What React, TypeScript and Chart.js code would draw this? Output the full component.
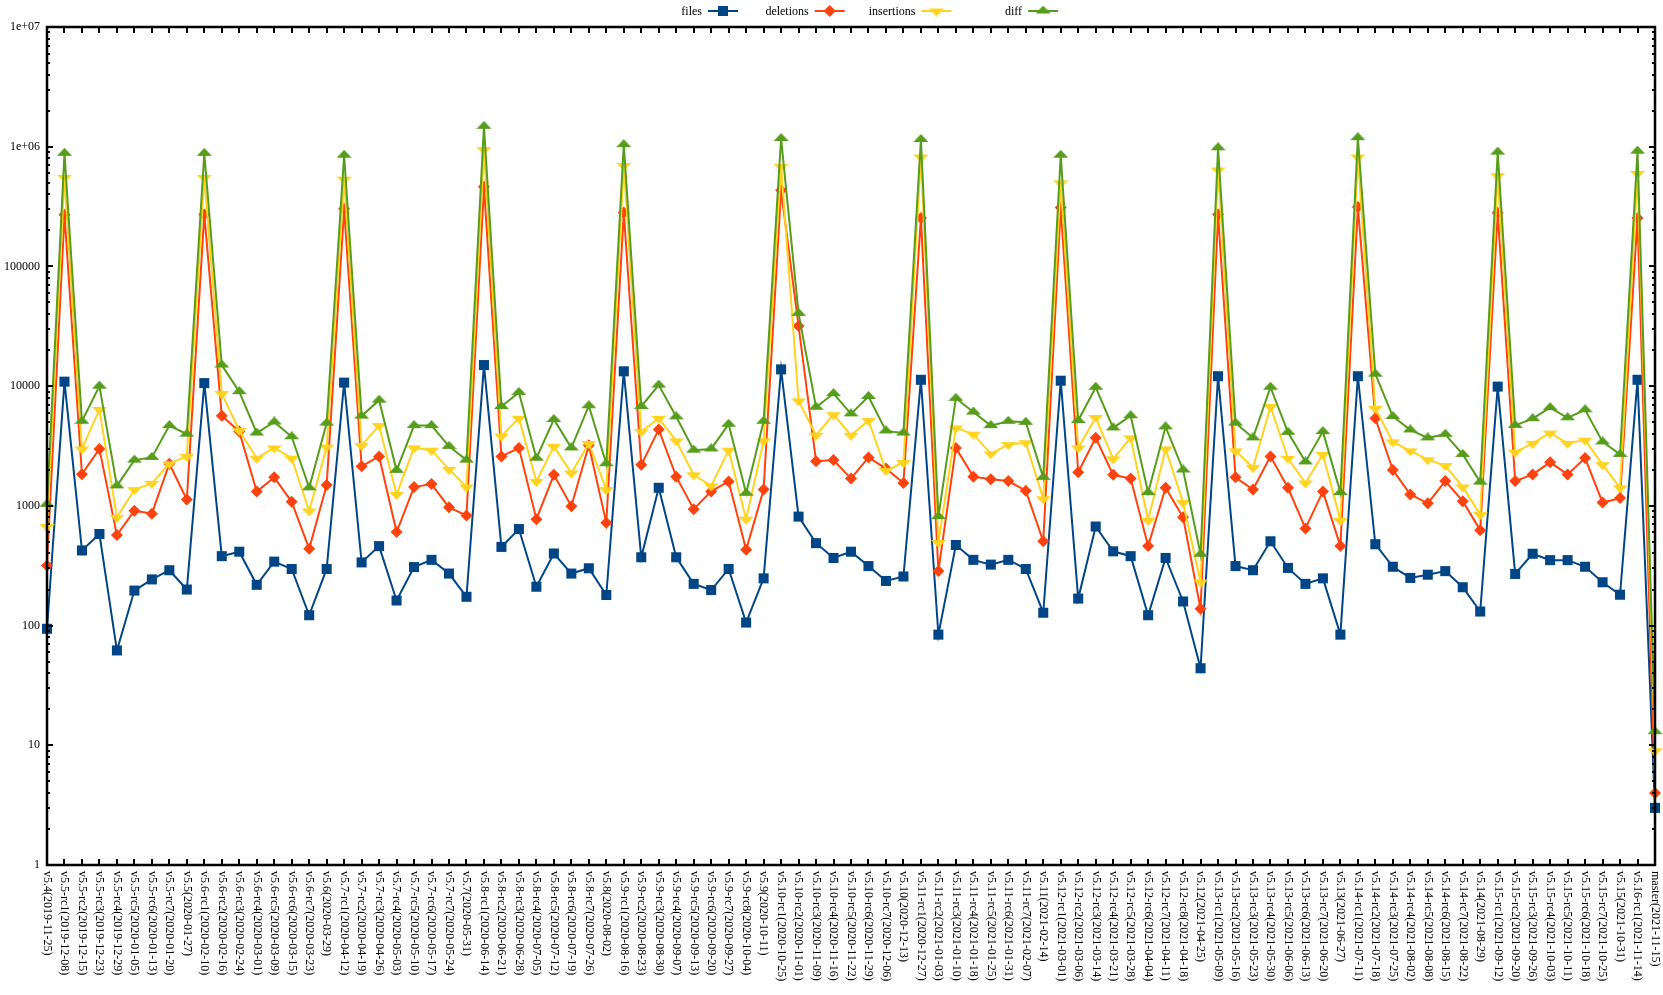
import React, { useEffect, useRef } from 'react';
import { Chart, registerables } from 'chart.js';
Chart.register(...registerables);

const categories = [
  'v5.4(2019-11-25)', 'v5.5-rc1(2019-12-08)', 'v5.5-rc2(2019-12-15)', 'v5.5-rc3(2019-12-23)', 'v5.5-rc4(2019-12-29)',
  'v5.5-rc5(2020-01-05)', 'v5.5-rc6(2020-01-13)', 'v5.5-rc7(2020-01-20)', 'v5.5(2020-01-27)', 'v5.6-rc1(2020-02-10)',
  'v5.6-rc2(2020-02-16)', 'v5.6-rc3(2020-02-24)', 'v5.6-rc4(2020-03-01)', 'v5.6-rc5(2020-03-09)', 'v5.6-rc6(2020-03-15)',
  'v5.6-rc7(2020-03-23)', 'v5.6(2020-03-29)', 'v5.7-rc1(2020-04-12)', 'v5.7-rc2(2020-04-19)', 'v5.7-rc3(2020-04-26)',
  'v5.7-rc4(2020-05-03)', 'v5.7-rc5(2020-05-10)', 'v5.7-rc6(2020-05-17)', 'v5.7-rc7(2020-05-24)', 'v5.7(2020-05-31)',
  'v5.8-rc1(2020-06-14)', 'v5.8-rc2(2020-06-21)', 'v5.8-rc3(2020-06-28)', 'v5.8-rc4(2020-07-05)', 'v5.8-rc5(2020-07-12)',
  'v5.8-rc6(2020-07-19)', 'v5.8-rc7(2020-07-26)', 'v5.8(2020-08-02)', 'v5.9-rc1(2020-08-16)', 'v5.9-rc2(2020-08-23)',
  'v5.9-rc3(2020-08-30)', 'v5.9-rc4(2020-09-07)', 'v5.9-rc5(2020-09-13)', 'v5.9-rc6(2020-09-20)', 'v5.9-rc7(2020-09-27)',
  'v5.9-rc8(2020-10-04)', 'v5.9(2020-10-11)', 'v5.10-rc1(2020-10-25)', 'v5.10-rc2(2020-11-01)', 'v5.10-rc3(2020-11-09)',
  'v5.10-rc4(2020-11-16)', 'v5.10-rc5(2020-11-22)', 'v5.10-rc6(2020-11-29)', 'v5.10-rc7(2020-12-06)', 'v5.10(2020-12-13)',
  'v5.11-rc1(2020-12-27)', 'v5.11-rc2(2021-01-03)', 'v5.11-rc3(2021-01-10)', 'v5.11-rc4(2021-01-18)', 'v5.11-rc5(2021-01-25)',
  'v5.11-rc6(2021-01-31)', 'v5.11-rc7(2021-02-07)', 'v5.11(2021-02-14)', 'v5.12-rc1(2021-03-01)', 'v5.12-rc2(2021-03-06)',
  'v5.12-rc3(2021-03-14)', 'v5.12-rc4(2021-03-21)', 'v5.12-rc5(2021-03-28)', 'v5.12-rc6(2021-04-04)', 'v5.12-rc7(2021-04-11)',
  'v5.12-rc8(2021-04-18)', 'v5.12(2021-04-25)', 'v5.13-rc1(2021-05-09)', 'v5.13-rc2(2021-05-16)', 'v5.13-rc3(2021-05-23)',
  'v5.13-rc4(2021-05-30)', 'v5.13-rc5(2021-06-06)', 'v5.13-rc6(2021-06-13)', 'v5.13-rc7(2021-06-20)', 'v5.13(2021-06-27)',
  'v5.14-rc1(2021-07-11)', 'v5.14-rc2(2021-07-18)', 'v5.14-rc3(2021-07-25)', 'v5.14-rc4(2021-08-02)', 'v5.14-rc5(2021-08-08)',
  'v5.14-rc6(2021-08-15)', 'v5.14-rc7(2021-08-22)', 'v5.14(2021-08-29)', 'v5.15-rc1(2021-09-12)', 'v5.15-rc2(2021-09-20)',
  'v5.15-rc3(2021-09-26)', 'v5.15-rc4(2021-10-03)', 'v5.15-rc5(2021-10-11)', 'v5.15-rc6(2021-10-18)', 'v5.15-rc7(2021-10-25)',
  'v5.15(2021-10-31)', 'v5.16-rc1(2021-11-14)', 'master(2021-11-15)',
];

const files = [
  94, 10900, 424, 582, 62, 196, 243, 290, 200, 10600, 380, 414, 219, 342, 297, 122, 297, 10700, 337, 461,
  162, 308, 354, 272, 174, 15000, 454, 640, 211, 400, 272, 301, 180, 13300, 372, 1416, 372, 223, 198, 297,
  106, 248, 13800, 813, 488, 367, 414, 314, 236, 257, 11300, 84, 471, 354, 323, 354, 297, 128, 11100, 168,
  672, 417, 380, 122, 367, 159, 44, 12100, 314, 290, 506, 303, 223, 248, 84, 12100, 478, 310, 250, 266,
  285, 209, 131, 9910, 270, 398, 352, 352, 310, 230, 181, 11300, 3,
];

const deletions = [
  318, 270000, 1840, 2990, 570, 912, 861, 2250, 1128, 272000, 5660, 4170, 1320, 1730, 1081, 438, 1490, 303000, 2140, 2590,
  604, 1436, 1520, 972, 832, 464000, 2590, 3050, 774, 1816, 993, 3210, 721, 282000, 2200, 4350, 1754, 938, 1320, 1600,
  430, 1368, 432000, 31800, 2360, 2410, 1690, 2540, 2050, 1553, 254000, 286, 3050, 1754, 1667, 1610, 1340, 506, 310000, 1910,
  3700, 1816, 1690, 461, 1416, 802, 138, 272000, 1730, 1368, 2590, 1416, 648, 1320, 461, 314000, 5390, 1995, 1245, 1050,
  1610, 1094, 627, 281000, 1610, 1830, 2310, 1830, 2510, 1066, 1161, 254000, 4,
];

const insertions = [
  672, 555000, 2990, 6390, 802, 1368, 1542, 2250, 2590, 555000, 8670, 4260, 2500, 3050, 2500, 906, 3100, 535000, 3200, 4680,
  1247, 3050, 2920, 2020, 1436, 945000, 3830, 5390, 1600, 3140, 1880, 3320, 1368, 697000, 4170, 5390, 3490, 1816, 1470, 2920,
  774, 3490, 686000, 7530, 3890, 5780, 3890, 5160, 1980, 2300, 820000, 494, 4480, 3970, 2720, 3250, 3370, 1146, 499000, 3050,
  5470, 2470, 3700, 758, 2990, 1066, 231, 639000, 2880, 2090, 6760, 2500, 1553, 2690, 758, 820000, 6530, 3420, 2880, 2430,
  2170, 1440, 845, 573000, 2810, 3330, 4060, 3330, 3540, 2210, 1416, 598000, 9,
];

const diff = [
  1030, 880000, 5090, 10000, 1470, 2410, 2540, 4680, 3970, 880000, 15000, 8990, 4060, 5020, 3780, 1416, 4910, 849000, 5620, 7640,
  1980, 4680, 4680, 3140, 2410, 1480000, 6760, 8870, 2500, 5270, 3050, 6860, 2250, 1040000, 6760, 10200, 5540, 2920, 2990, 4810,
  1273, 5090, 1170000, 40500, 6670, 8670, 5870, 8200, 4230, 4060, 1150000, 813, 7910, 6080, 4680, 5090, 4990, 1730, 849000, 5160,
  9790, 4480, 5660, 1291, 4570, 1995, 394, 980000, 4910, 3700, 9790, 4110, 2330, 4170, 1291, 1190000, 12600, 5580, 4310, 3700,
  3960, 2690, 1580, 902000, 4700, 5350, 6620, 5440, 6350, 3420, 2690, 918000, 13,
];

const seriesNames = ['files', 'deletions', 'insertions', 'diff'];
const yTickValues = [1, 10, 100, 1000, 10000, 100000, 1000000, 10000000];
const yTickLabels = ['1', '10', '100', '1000', '10000', '100000', '1e+06', '1e+07'];

const COLORS = ['#004586', '#ff420e', '#ffd320', '#579d1c'];
const FONT = '12px "Liberation Serif", "DejaVu Serif", serif';

function makeTriangle(color: string, up: boolean, w: number, h: number) {
  const c = document.createElement('canvas');
  const H = Math.round((h * 4) / 3);
  c.width = w;
  c.height = H;
  const ctx = c.getContext('2d')!;
  ctx.fillStyle = color;
  ctx.beginPath();
  if (up) {
    ctx.moveTo(w / 2, 0);
    ctx.lineTo(w, h);
    ctx.lineTo(0, h);
  } else {
    ctx.moveTo(0, H - h);
    ctx.lineTo(w, H - h);
    ctx.lineTo(w / 2, H);
  }
  ctx.closePath();
  ctx.fill();
  return c;
}

export default function App() {
  const ref = useRef<HTMLCanvasElement>(null);

  useEffect(() => {
    const canvas = ref.current!;
    const triUp = makeTriangle(COLORS[3], true, 15, 8);
    const triDown = makeTriangle(COLORS[2], false, 15, 8);

    const drawMarker = (ctx: CanvasRenderingContext2D, k: number, x: number, y: number) => {
      ctx.fillStyle = COLORS[k];
      if (k === 0) {
        ctx.fillRect(x - 5, y - 5, 10, 10);
      } else if (k === 1) {
        ctx.beginPath();
        ctx.moveTo(x - 6, y);
        ctx.lineTo(x, y - 6);
        ctx.lineTo(x + 6, y);
        ctx.lineTo(x, y + 6);
        ctx.closePath();
        ctx.fill();
      } else {
        const img = k === 2 ? triDown : triUp;
        ctx.drawImage(img, x - img.width / 2, y - img.height / 2);
      }
    };

    const framePlugin = {
      id: 'gnuplotFrame',
      afterDatasetsDraw(chart: any) {
        const ctx: CanvasRenderingContext2D = chart.ctx;
        const { left, right, top, bottom } = chart.chartArea;
        const xs = chart.scales.x;
        const ys = chart.scales.y;
        ctx.save();
        ctx.strokeStyle = '#000';
        ctx.lineWidth = 2;
        ctx.beginPath();
        for (let i = 0; i < categories.length; i++) {
          const x = Math.round(xs.getPixelForValue(i));
          ctx.moveTo(x, bottom);
          ctx.lineTo(x, bottom - 6);
          ctx.moveTo(x, top);
          ctx.lineTo(x, top + 6);
        }
        for (let d = 0; d < 7; d++) {
          for (let m = 1; m <= 9; m++) {
            const v = m * Math.pow(10, d);
            const y = Math.round(ys.getPixelForValue(v));
            const len = m === 1 ? 6 : 3;
            ctx.moveTo(left, y);
            ctx.lineTo(left + len, y);
            ctx.moveTo(right, y);
            ctx.lineTo(right - len, y);
          }
        }
        ctx.stroke();
        ctx.lineWidth = 2.5;
        ctx.strokeRect(left, top, right - left, bottom - top);
        ctx.restore();
      },
      afterDraw(chart: any) {
        const ctx: CanvasRenderingContext2D = chart.ctx;
        const { left, bottom } = chart.chartArea;
        const xs = chart.scales.x;
        const ys = chart.scales.y;
        ctx.save();
        ctx.fillStyle = '#000';
        ctx.font = FONT;
        ctx.textAlign = 'right';
        ctx.textBaseline = 'middle';
        yTickValues.forEach((v, i) => {
          ctx.fillText(yTickLabels[i], left - 7, ys.getPixelForValue(v));
        });
        ctx.textAlign = 'left';
        categories.forEach((c, i) => {
          const x = xs.getPixelForValue(i);
          ctx.save();
          ctx.translate(x, bottom + 6);
          ctx.rotate(Math.PI / 2);
          ctx.fillText(c, 0, 0);
          ctx.restore();
        });
        const ly = 11;
        seriesNames.forEach((name, k) => {
          const cx = 723 + 106.7 * k;
          ctx.fillStyle = '#000';
          ctx.textAlign = 'right';
          ctx.textBaseline = 'middle';
          ctx.fillText(name, cx - 21, ly + 1);
          ctx.strokeStyle = COLORS[k];
          ctx.lineWidth = 2;
          ctx.beginPath();
          ctx.moveTo(cx - 15, ly);
          ctx.lineTo(cx + 15, ly);
          ctx.stroke();
          drawMarker(ctx, k, cx, ly);
        });
        ctx.restore();
      },
    };

    const seriesData = [files, deletions, insertions, diff];
    const pointStyles: any[] = ['rect', 'rectRot', triDown, triUp];
    const radii = [7.1, 6, 8, 8];

    const chart = new Chart(canvas, {
      type: 'line',
      data: {
        labels: categories,
        datasets: seriesNames.map((name, k) => ({
          label: name,
          data: seriesData[k],
          borderColor: COLORS[k],
          backgroundColor: COLORS[k],
          pointBackgroundColor: COLORS[k],
          pointBorderColor: COLORS[k],
          pointBorderWidth: 0,
          pointStyle: pointStyles[k],
          pointRadius: radii[k],
          pointHoverRadius: radii[k],
          borderWidth: 2,
          tension: 0,
          fill: false,
          clip: false as any,
          order: 4 - k,
        })),
      },
      options: {
        animation: false,
        responsive: false,
        maintainAspectRatio: false,
        events: [],
        layout: { padding: { left: 47, top: 27, right: 5, bottom: 130 } },
        plugins: { legend: { display: false }, tooltip: { enabled: false } },
        scales: {
          x: { type: 'category', display: false, offset: false },
          y: { type: 'logarithmic', display: false, min: 1, max: 10000000 },
        },
      },
      plugins: [framePlugin],
    });
    return () => chart.destroy();
  }, []);

  return (
    <div style={{ position: 'fixed', left: 0, top: 0, width: 1663, height: 995, background: '#fff' }}>
      <canvas ref={ref} width={1663} height={995} style={{ display: 'block', width: 1663, height: 995 }} />
    </div>
  );
}
